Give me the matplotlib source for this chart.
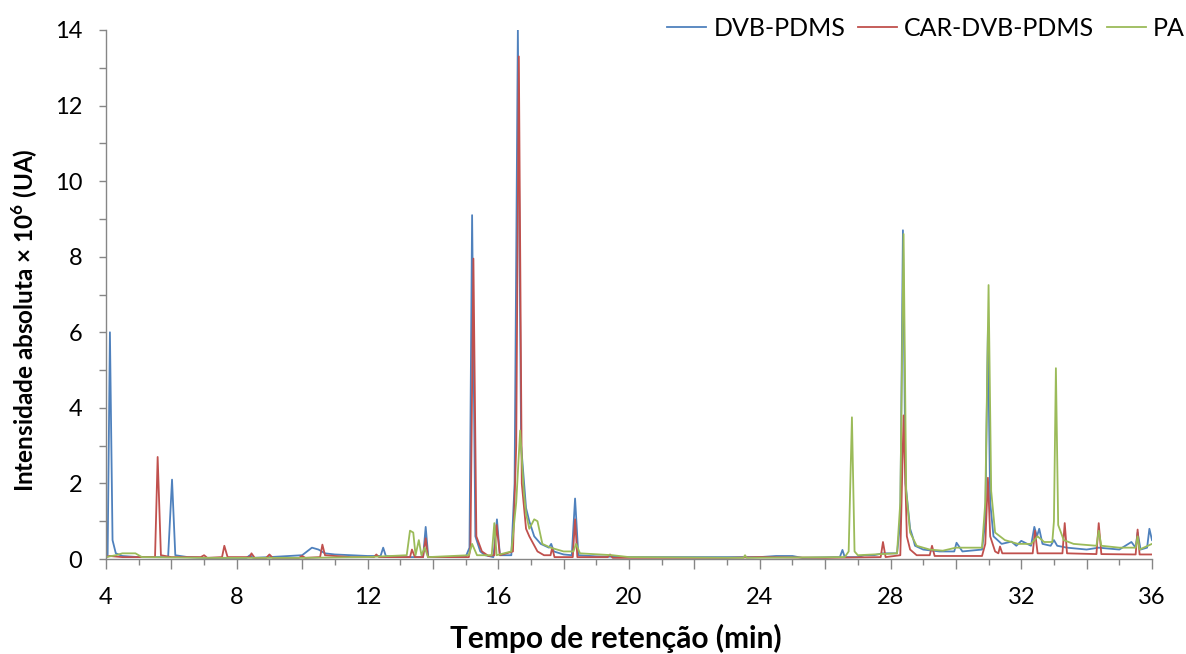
import matplotlib
matplotlib.use("Agg")
import matplotlib.pyplot as plt
from matplotlib.ticker import MultipleLocator

plt.rcParams['font.family'] = ['Lato', 'DejaVu Sans']
plt.rcParams['mathtext.fontset'] = 'custom'
plt.rcParams['mathtext.rm'] = 'Lato'
plt.rcParams['mathtext.bf'] = 'Lato:bold'

# Retention time (min) and absolute intensity (x10^6 UA) for each SPME fibre
dvb_t = [4.0, 4.05, 4.12, 4.2, 4.3, 4.5, 5.0, 5.9, 6.02, 6.12, 6.5, 7.0, 8.3, 8.4, 8.5,
         9.0, 10.0, 10.3, 10.5, 10.7, 11.0, 11.5, 12.0, 12.4, 12.48, 12.56, 13.0, 13.7,
         13.78, 13.86, 15.0, 15.12, 15.2, 15.3, 15.45, 15.6, 15.85, 15.96, 16.05, 16.4,
         16.5, 16.6, 16.7, 16.85, 16.95, 17.1, 17.3, 17.55, 17.62, 17.7, 18.0, 18.25,
         18.35, 18.45, 19.0, 20.0, 24.0, 24.5, 25.0, 25.3, 26.3, 26.45, 26.53, 26.6, 27.0,
         27.2, 27.5, 27.75, 28.2, 28.3, 28.38, 28.46, 28.6, 28.68, 28.75, 29.0, 29.5,
         29.95, 30.02, 30.2, 30.8, 30.9, 30.98, 31.05, 31.15, 31.4, 31.7, 31.85, 32.0,
         32.3, 32.4, 32.48, 32.55, 32.65, 32.9, 33.0, 33.1, 33.4, 34.0, 34.37, 35.0,
         35.37, 35.5, 35.56, 35.65, 35.85, 35.92, 36.0]
dvb_y = [0.05, 0.1, 6.0, 0.5, 0.15, 0.08, 0.05, 0.05, 2.1, 0.1, 0.05, 0.03, 0.03, 0.1, 0.03,
         0.05, 0.1, 0.3, 0.25, 0.15, 0.12, 0.1, 0.08, 0.08, 0.3, 0.08, 0.05, 0.05,
         0.85, 0.05, 0.05, 0.3, 9.1, 0.6, 0.2, 0.1, 0.05, 1.05, 0.1, 0.1,
         2.0, 14.0, 3.0, 1.35, 1.0, 0.6, 0.4, 0.3, 0.4, 0.2, 0.12, 0.1,
         1.6, 0.1, 0.07, 0.05, 0.05, 0.08, 0.08, 0.03, 0.05, 0.05, 0.24, 0.05, 0.05,
         0.1, 0.1, 0.15, 0.15, 1.0, 8.7, 2.0, 0.8, 0.58, 0.35, 0.25, 0.2,
         0.2, 0.43, 0.2, 0.25, 1.0, 6.05, 1.5, 0.6, 0.4, 0.46, 0.35, 0.48,
         0.35, 0.85, 0.6, 0.8, 0.4, 0.35, 0.5, 0.35, 0.3, 0.25, 0.3, 0.25,
         0.45, 0.3, 0.7, 0.25, 0.3, 0.8, 0.5]

car_t = [4.0, 4.1, 4.5, 5.5, 5.58, 5.68, 6.0, 6.9, 7.0, 7.1, 7.55, 7.62, 7.72, 8.4, 8.45,
         8.55, 8.9, 9.0, 9.1, 9.9, 10.0, 10.1, 10.55, 10.62, 10.7, 11.0, 11.5, 12.2,
         12.27, 12.35, 13.3, 13.36, 13.45, 13.7, 13.78, 13.85, 15.1, 15.15, 15.24, 15.33,
         15.5, 15.7, 15.88, 15.95, 16.05, 16.45, 16.55, 16.63, 16.72, 16.85, 16.95, 17.2,
         17.4, 17.6, 17.65, 17.72, 18.28, 18.35, 18.42, 19.35, 19.42, 19.5, 23.0, 24.0,
         26.0, 27.7, 27.77, 27.85, 28.3, 28.4, 28.5, 28.6, 28.8, 29.2, 29.27, 29.35,
         30.8, 30.9, 30.98, 31.05, 31.2, 31.3, 31.35, 31.42, 32.35, 32.42, 32.5, 33.26,
         33.33, 33.4, 34.3, 34.37, 34.45, 35.5, 35.56, 35.62, 36.0]
car_y = [0.05, 0.08, 0.05, 0.05, 2.7, 0.1, 0.05, 0.05, 0.1, 0.03, 0.05, 0.35, 0.05, 0.05, 0.15,
         0.03, 0.03, 0.12, 0.03, 0.03, 0.08, 0.03, 0.05, 0.38, 0.1, 0.08, 0.05, 0.05,
         0.12, 0.05, 0.05, 0.25, 0.05, 0.05, 0.55, 0.05, 0.05, 0.3, 7.95, 0.6,
         0.2, 0.08, 0.1, 0.9, 0.1, 0.2, 3.0, 13.3, 2.0, 0.8, 0.6, 0.2,
         0.1, 0.1, 0.3, 0.05, 0.05, 1.05, 0.05, 0.05, 0.12, 0.03, 0.03, 0.05,
         0.03, 0.05, 0.45, 0.05, 0.1, 3.8, 0.6, 0.25, 0.1, 0.1, 0.35, 0.08,
         0.08, 0.4, 2.15, 0.6, 0.2, 0.15, 0.33, 0.15, 0.15, 0.75, 0.15, 0.15,
         0.95, 0.15, 0.13, 0.95, 0.13, 0.12, 0.78, 0.12, 0.12]

pa_t = [4.0, 4.3, 4.5, 4.9, 5.1, 7.0, 10.0, 12.0, 13.2, 13.3, 13.4, 13.47, 13.57, 13.65,
        13.75, 13.85, 15.1, 15.2, 15.35, 15.8, 15.88, 15.95, 16.4, 16.55, 16.67, 16.78,
        16.85, 16.95, 17.1, 17.2, 17.35, 17.6, 18.0, 18.3, 18.38, 18.5, 19.5, 20.0, 23.5,
        23.55, 23.6, 26.6, 26.72, 26.82, 26.9, 27.0, 28.2, 28.3, 28.4, 28.48, 28.6, 28.8,
        29.2, 29.6, 30.0, 30.8, 30.9, 31.0, 31.08, 31.2, 31.5, 31.9, 32.3, 32.5, 32.7,
        32.95, 33.0, 33.06, 33.13, 33.3, 33.6, 34.3, 34.37, 34.45, 35.0, 35.5, 35.56,
        35.62, 36.0]
pa_y = [0.05, 0.1, 0.15, 0.15, 0.05, 0.03, 0.03, 0.05, 0.1, 0.75, 0.7, 0.1, 0.5, 0.1,
        0.3, 0.05, 0.1, 0.4, 0.1, 0.1, 0.95, 0.1, 0.2, 1.5, 3.4, 1.8,
        1.2, 0.8, 1.05, 1.0, 0.4, 0.3, 0.2, 0.2, 0.4, 0.15, 0.1, 0.05, 0.03,
        0.1, 0.03, 0.05, 0.2, 3.75, 0.2, 0.1, 0.15, 1.5, 8.6, 1.8, 0.7, 0.35,
        0.25, 0.22, 0.3, 0.3, 1.5, 7.25, 1.8, 0.7, 0.5, 0.4, 0.4, 0.6, 0.45,
        0.45, 1.0, 5.05, 0.9, 0.5, 0.4, 0.35, 0.75, 0.35, 0.3, 0.3, 0.6,
        0.25, 0.4]

series_names = ['DVB-PDMS', 'CAR-DVB-PDMS', 'PA']
x_tick_labels = ['4', '8', '12', '16', '20', '24', '28', '32', '36']
y_tick_labels = ['0', '2', '4', '6', '8', '10', '12', '14']

colors = ['#4F81BD', '#C0504D', '#9BBB59']
axis_grey = '#868686'

fig = plt.figure(figsize=(11.86, 6.54), dpi=100)
ax = fig.add_axes([106 / 1186, 1 - 559 / 654, 1046 / 1186, 529 / 654])

for (t, y), name, c in zip([(dvb_t, dvb_y), (car_t, car_y), (pa_t, pa_y)],
                           series_names, colors):
    ax.plot(t, y, color=c, lw=1.3, label=name, solid_joinstyle='round')

ax.set_xlim(4, 36)
ax.set_ylim(0, 14)

x_major = list(range(4, 37, 2))
ax.set_xticks(x_major)
ax.set_xticklabels([str(v) if str(v) in x_tick_labels else '' for v in x_major])
ax.xaxis.set_minor_locator(MultipleLocator(1))
ax.set_yticks([float(v) for v in y_tick_labels])
ax.set_yticklabels(y_tick_labels)
ax.yaxis.set_minor_locator(MultipleLocator(1))

for side in ['top', 'right']:
    ax.spines[side].set_visible(False)
for side in ['left', 'bottom']:
    ax.spines[side].set_color(axis_grey)
    ax.spines[side].set_linewidth(1.0)

ax.tick_params(axis='x', which='major', direction='out', length=7, width=1,
               color=axis_grey, labelsize=17, pad=13, labelcolor='#000000')
ax.tick_params(axis='x', which='minor', direction='out', length=4, width=1,
               color=axis_grey)
ax.tick_params(axis='y', which='both', direction='out', length=5, width=1,
               color=axis_grey, labelsize=17, pad=12, labelcolor='#000000')

ax.set_xlabel('Tempo de retenção (min)', fontsize=21.5, fontweight='bold')
ax.set_ylabel(r'Intensidade absoluta × 10$^{\mathbf{6}}$ (UA)', fontsize=17.5,
              fontweight='bold')
ax.xaxis.set_label_coords(0.487, -0.122)
ax.yaxis.set_label_coords(-0.063, 0.452)

fig.legend(loc='center right', bbox_to_anchor=(1185 / 1186, 1 - 28 / 654), ncol=3,
           frameon=False, fontsize=18, handlelength=1.55, handletextpad=0.3,
           columnspacing=0.5, borderpad=0, borderaxespad=0)

fig.savefig('out.png', dpi=100)
